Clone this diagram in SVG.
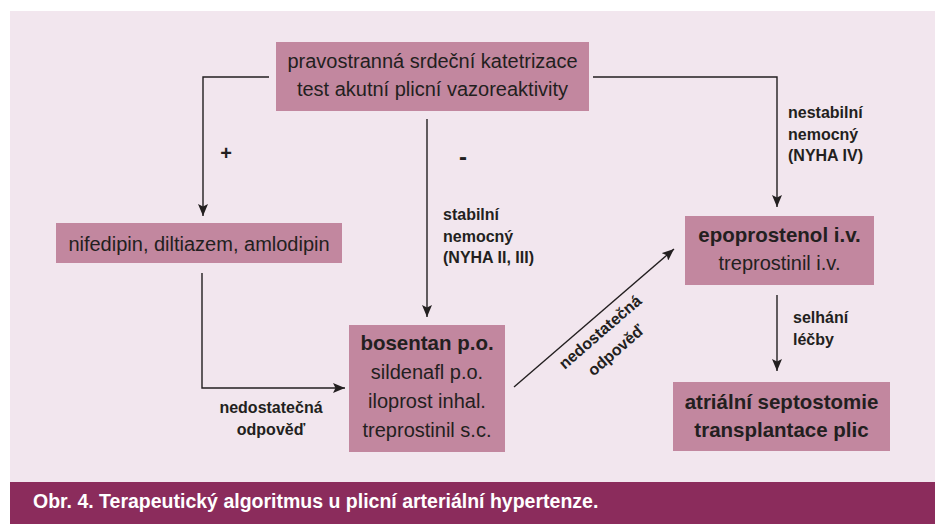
<svg xmlns="http://www.w3.org/2000/svg" width="940" height="524" viewBox="0 0 940 524">
<defs>
<style>
.bg{fill:#F2E6EE}
.box{fill:#C2879F}
.t{font-family:"Liberation Sans",Arial,sans-serif;font-size:20px;fill:#231F20;text-anchor:middle}
.tb{font-family:"Liberation Sans",Arial,sans-serif;font-size:20.5px;font-weight:bold;fill:#231F20;text-anchor:middle}
.lb{font-family:"Liberation Sans",Arial,sans-serif;font-size:16px;font-weight:bold;fill:#231F20}
.c{fill:none;stroke:#231F20;stroke-width:1.4}
.cap{font-family:"Liberation Sans",Arial,sans-serif;font-size:19.5px;font-weight:bold;fill:#FFFFFF}
</style>
<marker id="ah" markerWidth="12" markerHeight="10" refX="12" refY="5" orient="auto" markerUnits="userSpaceOnUse">
<path d="M0,0 L12,5 L0,10 L2.5,5 z" fill="#231F20"/>
</marker>
</defs>
<rect class="bg" x="10" y="11" width="925" height="471"/>
<rect x="10" y="482" width="925" height="42" fill="#8B2C5C"/>
<text class="cap" x="33" y="508">Obr. 4. Terapeutický algoritmus u plicní arteriální hypertenze.</text>

<g id="connectors">
<polyline class="c" points="269,77 203,77 203,216" marker-end="url(#ah)"/>
<line class="c" x1="427" y1="119" x2="427" y2="317" marker-end="url(#ah)"/>
<polyline class="c" points="593,77 777,77 777,207" marker-end="url(#ah)"/>
<polyline class="c" points="202,273 202,388 345,388" marker-end="url(#ah)"/>
<line class="c" x1="514" y1="387" x2="674" y2="249" marker-end="url(#ah)"/>
<line class="c" x1="777" y1="295" x2="777" y2="371" marker-end="url(#ah)"/>
<text class="lb" x="226" y="160" style="font-size:20px;text-anchor:middle">+</text>
<text class="lb" x="463" y="165" style="font-size:24px;text-anchor:middle">-</text>
<text class="lb" x="443" y="220">stabilní</text>
<text class="lb" x="443" y="242">nemocný</text>
<text class="lb" x="443" y="263">(NYHA II, III)</text>
<text class="lb" x="788" y="118">nestabilní</text>
<text class="lb" x="788" y="140">nemocný</text>
<text class="lb" x="788" y="161">(NYHA IV)</text>
<text class="lb" x="271" y="413" style="text-anchor:middle">nedostatečná</text>
<text class="lb" x="271" y="435" style="text-anchor:middle">odpověď</text>
<text class="lb" x="793" y="323">selhání</text>
<text class="lb" x="793" y="345">léčby</text>
<g transform="translate(603.7,336.2) rotate(-40.8)">
<text class="lb" x="0" y="0" style="text-anchor:middle">nedostatečná</text>
<text class="lb" x="0" y="24" style="text-anchor:middle">odpověď</text>
</g>
</g>

<g id="node-top">
<rect class="box" x="276" y="42" width="313" height="69"/>
<text class="t" x="432.5" y="68">pravostranná srdeční katetrizace</text>
<text class="t" x="432.5" y="96">test akutní plicní vazoreaktivity</text>
</g>
<g id="node-ccb">
<rect class="box" x="56" y="223" width="286" height="40"/>
<text class="t" x="199" y="251">nifedipin, diltiazem, amlodipin</text>
</g>
<g id="node-bosentan">
<rect class="box" x="349" y="325" width="156" height="127"/>
<text class="tb" x="427" y="350">bosentan p.o.</text>
<text class="t" x="427" y="379">sildenafl p.o.</text>
<text class="t" x="427" y="408">iloprost inhal.</text>
<text class="t" x="427" y="437">treprostinil s.c.</text>
</g>
<g id="node-epoprostenol">
<rect class="box" x="685" y="216" width="189" height="69"/>
<text class="tb" x="779.5" y="242">epoprostenol i.v.</text>
<text class="t" x="779.5" y="270">treprostinil i.v.</text>
</g>
<g id="node-septostomie">
<rect class="box" x="673" y="382" width="217" height="69"/>
<text class="tb" x="781.5" y="409">atriální septostomie</text>
<text class="tb" x="781.5" y="437">transplantace plic</text>
</g>
</svg>
